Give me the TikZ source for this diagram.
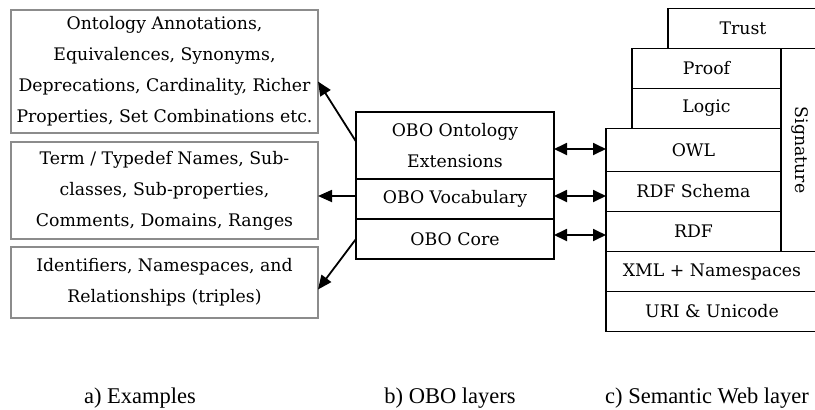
\documentclass[tikz,border=0pt]{standalone}
\usepackage{fontspec}
\setmainfont{DejaVu Serif}
\newfontfamily\capfont{Liberation Serif}
\usetikzlibrary{arrows.meta, positioning}

\begin{document}
\begin{tikzpicture}[
      x=1pt, y=-1pt, >={Triangle[length=14pt,width=12pt]},
      every node/.style={inner sep=0pt, outer sep=0pt, font=\fontsize{17.3}{31}\selectfont},
      example/.style={draw=gray!90, line width=1.6pt, minimum width=307pt, align=center},
      layer/.style={draw, line width=1.3pt, minimum height=40pt, align=center},
      link/.style={line width=1.8pt},
      caption/.style={font=\capfont\fontsize{22.5}{26}\selectfont, anchor=base}
      ]
      \clip (0,0) rectangle (815,410);

      % a) examples
      \node[example, minimum height=123pt] (ex1) at (164.5,71.5)
            {Ontology Annotations,\\ Equivalences, Synonyms,\\ Deprecations, Cardinality, Richer\\ Properties, Set Combinations etc.};
      \node[example, minimum height=97pt]  (ex2) at (164.5,190.5)
            {Term / Typedef Names, Sub-\\ classes, Sub-properties,\\ Comments, Domains, Ranges};
      \node[example, minimum height=71pt]  (ex3) at (164.5,282.5)
            {Identifiers, Namespaces, and\\ Relationships (triples)};

      % b) OBO layers
      \node[layer, minimum width=198pt, minimum height=67pt] (ext) at (455,145.5) {OBO Ontology\\ Extensions};
      \node[layer, minimum width=198pt] (vocab) [below=0pt of ext]   {OBO Vocabulary};
      \node[layer, minimum width=198pt] (core)  [below=0pt of vocab] {OBO Core};

      % c) semantic web layers
      \node[layer, minimum width=150pt] (trust) at (743,28.5) {Trust};
      \node[layer, minimum width=149pt] (proof) at (706.5,68.5) {Proof};
      \node[layer, minimum width=149pt] (logic) [below=0pt of proof] {Logic};
      \node[layer, minimum width=175pt, minimum height=43pt] (owl) [below=0pt of logic.south east, anchor=north east] {OWL};
      \node[layer, minimum width=175pt] (rdfs) [below=0pt of owl]  {RDF Schema};
      \node[layer, minimum width=175pt] (rdf)  [below=0pt of rdfs] {RDF};
      \node[layer, minimum width=212pt] (xml)  [below=0pt of rdf.south west, anchor=north west] {XML + Namespaces};
      \node[layer, minimum width=212pt] (uri)  [below=0pt of xml]  {URI \& Unicode};
      \node[layer, minimum width=37pt, minimum height=203pt, anchor=north west] (sig) at (proof.north east)
            {\rotatebox{-90}{Signature}};

      \path[link, {Triangle[length=13pt,width=12pt]}-{Triangle[length=13pt,width=12pt]}]
      ([yshift=-3.5pt]ext.east) edge ([yshift=-3.5pt]ext.east -| owl.west)
      ([yshift=3pt]vocab.east) edge ([yshift=3pt]vocab.east -| rdfs.west)
      ([yshift=4pt]core.east)  edge ([yshift=4pt]core.east -| rdf.west);
      \path[link, -{Triangle[length=14pt,width=12pt]}]
      ([yshift=4pt]ext.west) edge ([yshift=-10pt]ex1.east)
      ([yshift=3pt]vocab.west) edge ([yshift=3pt]vocab.west -| ex2.east)
      (core.west)  edge ([yshift=-7pt]ex3.east);

      % captions
      \node[caption] (capa) at (140,403) {a) Examples};
      \node[caption] (capb) at (450,403) {b) OBO layers};
      \node[caption] (capc) at (707,403) {c) Semantic Web layer};
    \end{tikzpicture}
\end{document}
